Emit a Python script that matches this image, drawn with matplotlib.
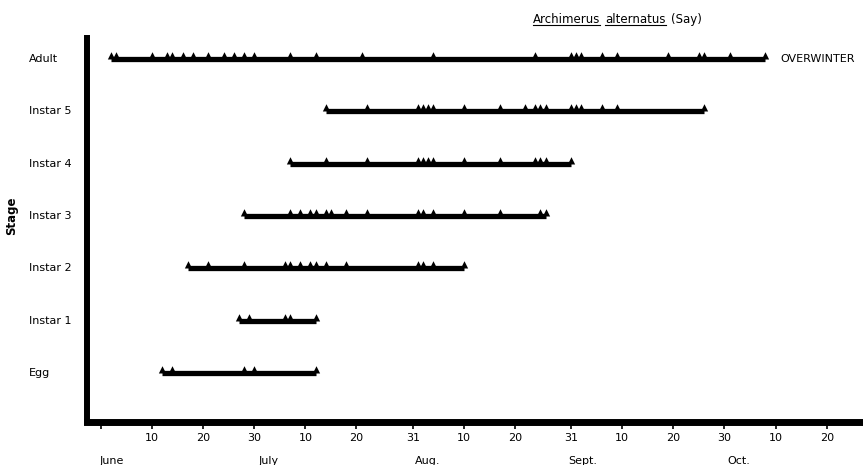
import matplotlib
matplotlib.use("Agg")
import matplotlib.pyplot as plt
from matplotlib.lines import Line2D

# days counted from May 31 (June 1 = 1, July 1 = 31, Aug 1 = 62, Sept 1 = 93, Oct 1 = 123)
stages = ["Egg", "Instar 1", "Instar 2", "Instar 3", "Instar 4", "Instar 5", "Adult"]

egg = [12, 14, 28, 30, 42]
instar1 = [27, 29, 36, 37, 42]
instar2 = [17, 21, 28, 36, 37, 39, 41, 42, 44, 48, 62, 63, 65, 71]
instar3 = [28, 37, 39, 41, 42, 44, 45, 48, 52, 62, 63, 65, 71, 78, 86, 87]
instar4 = [37, 44, 52, 62, 63, 64, 65, 71, 78, 85, 86, 87, 92]
instar5 = [44, 52, 62, 63, 64, 65, 71, 78, 83, 85, 86, 87, 92, 93, 94, 98, 101, 118]
adult = [2, 3, 10, 13, 14, 16, 18, 21, 24, 26, 28, 30, 37, 42, 51, 65, 85,
         92, 93, 94, 98, 101, 111, 117, 118, 123, 130]
records = [egg, instar1, instar2, instar3, instar4, instar5, adult]

tick_days = [0, 10, 20, 30, 40, 50, 61, 71, 81, 92, 102, 112, 122, 132, 142]
tick_labels = ["", "10", "20", "30", "10", "20", "31", "10", "20", "31",
               "10", "20", "30", "10", "20"]
months = ["June", "July", "Aug.", "Sept.", "Oct."]
month_x = [2.2, 32.9, 64, 94.3, 124.9]

W, H = 863, 465
fig = plt.figure(figsize=(W / 100, H / 100), dpi=100)
ax = fig.add_axes([87 / W, 43 / H, (W - 87) / W, 384 / H])

tri = [(-0.55, 0), (0.55, 0), (0, 1.1)]
for i, days in enumerate(records):
    ax.plot([min(days), max(days)], [i, i], color="black", lw=3.8,
            solid_capstyle="butt")
    ax.plot(days, [i] * len(days), ls="none", marker=tri, ms=10.5,
            color="black", mew=0)

ax.annotate("OVERWINTER", (max(adult), len(stages) - 1), xytext=(11, 0),
            textcoords="offset points", va="center", ha="left", fontsize=8)

ax.set_xlim(-2.72, 149.1)
ax.set_ylim(-0.936, 6.40)

for side in ["top", "right"]:
    ax.spines[side].set_visible(False)
ax.spines["left"].set_linewidth(4.3)
ax.spines["bottom"].set_linewidth(5)
ax.spines["bottom"].set_capstyle("projecting")

ax.set_yticks([])
ax.set_xticks(tick_days)
ax.set_xticklabels(tick_labels, fontsize=8)
ax.tick_params(axis="x", direction="out", length=5, width=1.2, pad=3)

for i, s in enumerate(stages):
    ax.text(-58 / 776, i, s, transform=ax.get_yaxis_transform(),
            ha="left", va="center", fontsize=8)

for m, x in zip(months, month_x):
    ax.text(x, -39 / 384, m, transform=ax.get_xaxis_transform(),
            ha="center", va="center", fontsize=8)

fig.text(12 / W, (H - 216) / H, "Stage", rotation=90, ha="center",
         va="center", fontsize=8.5, fontweight="bold")

# title with underlined genus and species
renderer = fig.canvas.get_renderer()
x = 533
base = (H - 23) / H
for word, ul in [("Archimerus", True), ("alternatus", True), ("(Say)", False)]:
    t = fig.text(x / W, base, word, fontsize=8.5, ha="left", va="baseline")
    bb = t.get_window_extent(renderer)
    if ul:
        fig.add_artist(Line2D([bb.x0 / W, bb.x1 / W], [(H - 25.5) / H] * 2,
                              transform=fig.transFigure, lw=0.8, color="black"))
    x = bb.x1 + 5

fig.savefig("out.png", dpi=100)
